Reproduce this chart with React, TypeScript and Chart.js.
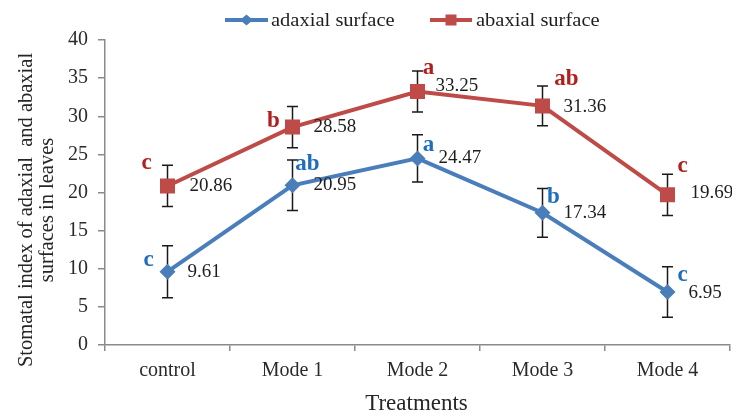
import React, { useEffect, useRef } from "react";
import { Chart, registerables } from "chart.js";

Chart.register(...registerables);

const categories = ["control", "Mode 1", "Mode 2", "Mode 3", "Mode 4"];
const adaxial = [9.61, 20.95, 24.47, 17.34, 6.95];
const abaxial = [20.86, 28.58, 33.25, 31.36, 19.69];
const adaxialErr = [3.4, 3.3, 3.1, 3.2, 3.3];
const abaxialErr = [2.7, 2.7, 2.7, 2.6, 2.7];
const adaxialLetters = ["c", "ab", "a", "b", "c"];
const abaxialLetters = ["c", "b", "a", "ab", "c"];
const yMin = 0;
const yMax = 40;
const yStep = 5;
const seriesNames = ["adaxial surface", "abaxial surface"];
const yTitleLines = ["Stomatal index of adaxial  and abaxial", "surfaces in leaves"];
const xTitle = "Treatments";

// annotation placement (pixel offsets relative to each point)
const adaxialLetterOff = [[-19, -12], [15, -21], [11, -13], [11, -16], [15, -17]];
const abaxialLetterOff = [[-21, -23], [-19, -6], [11, -23], [24, -27], [15, -29]];
const adaxialValueOff = [[20, 0], [21, 0], [21, 0], [21, 0], [21, 1]];
const abaxialValueOff = [[22, 0], [21, 0], [18, -5], [21, 1], [23, -2]];

const BLUE = "#4A7EBB";
const RED = "#BE4B48";
const BLUE_TXT = "#1F6DBF";
const RED_TXT = "#B01E1E";
const SERIF = "'Liberation Serif', 'Times New Roman', serif";

function drawText(ctx, text, x, y, font, color, align, baseline, sx = 1) {
  ctx.save();
  ctx.font = font;
  ctx.fillStyle = color;
  ctx.textAlign = align;
  ctx.textBaseline = baseline;
  ctx.translate(x, y);
  ctx.scale(sx, 1);
  ctx.fillText(text, 0, 0);
  ctx.restore();
}

const errorBarPlugin = {
  id: "errorBars",
  beforeDatasetsDraw(chart) {
    const ctx = chart.ctx;
    const xs = chart.scales.x;
    const ys = chart.scales.y;
    const sets = [
      [adaxial, adaxialErr],
      [abaxial, abaxialErr],
    ];
    ctx.save();
    ctx.strokeStyle = "#1a1a1a";
    ctx.lineWidth = 1.5;
    sets.forEach(([vals, errs]) => {
      vals.forEach((v, i) => {
        const x = xs.getPixelForValue(i);
        const yt = ys.getPixelForValue(v + errs[i]);
        const yb = ys.getPixelForValue(v - errs[i]);
        ctx.beginPath();
        ctx.moveTo(x, yt);
        ctx.lineTo(x, yb);
        ctx.moveTo(x - 5.5, yt);
        ctx.lineTo(x + 5.5, yt);
        ctx.moveTo(x - 5.5, yb);
        ctx.lineTo(x + 5.5, yb);
        ctx.stroke();
      });
    });
    ctx.restore();
  },
};

const annotPlugin = {
  id: "annots",
  afterDraw(chart) {
    const ctx = chart.ctx;
    const xs = chart.scales.x;
    const ys = chart.scales.y;
    const ca = chart.chartArea;
    const groups = [
      [adaxial, adaxialLetters, adaxialLetterOff, adaxialValueOff, BLUE_TXT],
      [abaxial, abaxialLetters, abaxialLetterOff, abaxialValueOff, RED_TXT],
    ];
    groups.forEach(([vals, letters, lo, vo, col]) => {
      vals.forEach((v, i) => {
        const x = xs.getPixelForValue(i);
        const y = ys.getPixelForValue(v);
        drawText(ctx, v.toFixed(2), x + vo[i][0], y + vo[i][1], `19px ${SERIF}`, "#1e1e1e", "left", "middle");
        drawText(ctx, letters[i], x + lo[i][0], y + lo[i][1], `bold 23px ${SERIF}`, col, "center", "middle");
      });
    });

    // y axis title
    const cy = 210;
    ctx.save();
    ctx.translate(27, cy);
    ctx.rotate(-Math.PI / 2);
    ctx.font = `20.5px ${SERIF}`;
    ctx.fillStyle = "#262626";
    ctx.textAlign = "center";
    ctx.textBaseline = "middle";
    ctx.fillText(yTitleLines[0], 0, 0);
    ctx.fillText(yTitleLines[1], 0, 21);
    ctx.restore();

    // x axis title
    drawText(ctx, xTitle, (ca.left + ca.right) / 2 - 1, 410, `23px ${SERIF}`, "#262626", "center", "alphabetic");

    // legend
    const ly = 20;
    const items = [
      { x0: 225, x1: 268, color: BLUE, style: "diamond", text: seriesNames[0], tx: 271 },
      { x0: 430, x1: 472, color: RED, style: "square", text: seriesNames[1], tx: 476 },
    ];
    items.forEach((it) => {
      ctx.save();
      ctx.strokeStyle = it.color;
      ctx.lineWidth = 4;
      ctx.beginPath();
      ctx.moveTo(it.x0, ly);
      ctx.lineTo(it.x1, ly);
      ctx.stroke();
      ctx.fillStyle = it.color;
      const cx = (it.x0 + it.x1) / 2;
      if (it.style === "diamond") {
        ctx.beginPath();
        ctx.moveTo(cx - 6.5, ly);
        ctx.lineTo(cx, ly - 5.5);
        ctx.lineTo(cx + 6.5, ly);
        ctx.lineTo(cx, ly + 5.5);
        ctx.closePath();
        ctx.fill();
      } else {
        ctx.fillRect(cx - 5.5, ly - 5.5, 11, 11);
      }
      ctx.restore();
      drawText(ctx, it.text, it.tx, ly + 1, `19px ${SERIF}`, "#1e1e1e", "left", "middle", 1.08);
    });
  },
};

const bgPlugin = {
  id: "bg",
  beforeDraw(chart) {
    const ctx = chart.ctx;
    ctx.save();
    ctx.fillStyle = "#ffffff";
    ctx.fillRect(0, 0, chart.width, chart.height);
    ctx.restore();
  },
};

export default function App() {
  const ref = useRef(null);
  useEffect(() => {
    const chart = new Chart(ref.current, {
      type: "line",
      data: {
        labels: categories,
        datasets: [
          {
            label: seriesNames[0],
            data: adaxial,
            borderColor: BLUE,
            backgroundColor: BLUE,
            borderWidth: 4,
            pointStyle: "rectRot",
            pointRadius: 8,
            pointBorderWidth: 0,
            pointBackgroundColor: BLUE,
            tension: 0,
          },
          {
            label: seriesNames[1],
            data: abaxial,
            borderColor: RED,
            backgroundColor: RED,
            borderWidth: 4,
            pointStyle: "rect",
            pointRadius: 10.6,
            pointBorderWidth: 0,
            pointBackgroundColor: RED,
            tension: 0,
          },
        ],
      },
      options: {
        responsive: false,
        animation: false,
        devicePixelRatio: 1,
        layout: { autoPadding: false, padding: { top: 40, right: 2, left: 0, bottom: 0 } },
        plugins: { legend: { display: false }, tooltip: { enabled: false } },
        scales: {
          x: {
            offset: true,
            grid: {
              offset: true,
              drawOnChartArea: false,
              drawTicks: true,
              tickLength: 6,
              color: "#8a8a8a",
              lineWidth: 1.5,
            },
            border: { display: true, color: "#8a8a8a", width: 1.5 },
            ticks: {
              font: { family: SERIF, size: 20 },
              color: "#2a2a2a",
              padding: 8,
              maxRotation: 0,
            },
            afterFit(scale) {
              scale.height = 70;
            },
          },
          y: {
            min: yMin,
            max: yMax,
            grid: {
              drawOnChartArea: false,
              drawTicks: true,
              tickLength: 7,
              color: "#8a8a8a",
              lineWidth: 1.5,
            },
            border: { display: true, color: "#8a8a8a", width: 1.5 },
            ticks: {
              stepSize: yStep,
              font: { family: SERIF, size: 20 },
              color: "#2a2a2a",
              padding: 10,
            },
            afterFit(scale) {
              scale.width = 105;
            },
          },
        },
      },
      plugins: [bgPlugin, errorBarPlugin, annotPlugin],
    });
    return () => chart.destroy();
  }, []);
  return (
    <div style={{ position: "absolute", left: 0, top: 0, width: 732, height: 415 }}>
      <canvas ref={ref} width={732} height={415} style={{ width: 732, height: 415 }} />
    </div>
  );
}
